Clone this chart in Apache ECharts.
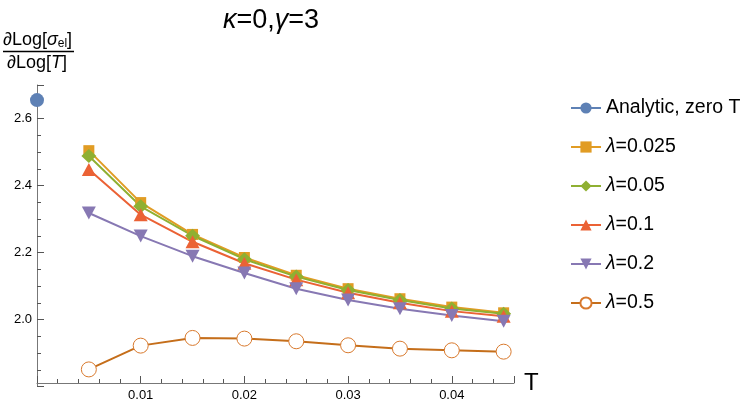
<!DOCTYPE html>
<html>
<head>
<meta charset="utf-8">
<script src="https://cdn.jsdelivr.net/npm/echarts@6/dist/echarts.min.js"></script>
<style>
  html, body { margin: 0; padding: 0; background: #fff; }
  #main { width: 750px; height: 407px; }
</style>
</head>
<body>
<div id="main"></div>
<script>
// data
var temps = [0.005, 0.01, 0.015, 0.02, 0.025, 0.03, 0.035, 0.04, 0.045];
var analytic = [[0, 2.655]];
var lam0025 = [2.504, 2.349, 2.254, 2.185, 2.132, 2.092, 2.062, 2.037, 2.020];
var lam005 = [2.488, 2.338, 2.250, 2.180, 2.128, 2.088, 2.058, 2.033, 2.017];
var lam01 = [2.448, 2.313, 2.232, 2.168, 2.119, 2.080, 2.050, 2.025, 2.010];
var lam02 = [2.318, 2.249, 2.189, 2.139, 2.092, 2.058, 2.032, 2.012, 1.995];
var lam05 = [1.851, 1.922, 1.945, 1.943, 1.935, 1.923, 1.913, 1.908, 1.904];

// axis ranges and tick steps
var xMin = 0, xMax = 0.046, xMajorStep = 0.01, xMinorSplit = 5;
var yMin = 1.8, yMax = 2.7, yMajorStep = 0.2, yMinorSplit = 4;

function pts(vals) {
  return vals.map(function (v, i) { return [temps[i], v]; });
}

var myChart = echarts.init(document.getElementById('main'));
var axisCol = '#777';
var tickCol = '#555';
var font = 'Liberation Sans, Arial, sans-serif';

var option = {
  animation: false,
  title: {
    text: '{i|κ}=0,{i|γ}=3',
    left: 218,
    top: 2,
    textStyle: {
      fontSize: 27, fontWeight: 'normal', color: '#000', fontFamily: font,
      rich: { i: { fontStyle: 'italic', fontSize: 27, fontFamily: font, color: '#000' } }
    }
  },
  legend: {
    orient: 'vertical',
    left: 565,
    top: 93,
    itemWidth: 30,
    itemHeight: 14,
    itemGap: 19,
    textStyle: {
      fontSize: 19.5, color: '#000', fontFamily: font,
      rich: { i: { fontStyle: 'italic', fontSize: 19.5, fontFamily: font, color: '#000' } }
    },
    formatter: function (name) {
      return name.replace('λ', '{i|λ}');
    },
    data: ['Analytic, zero T', 'λ=0.025', 'λ=0.05', 'λ=0.1', 'λ=0.2', 'λ=0.5']
  },
  grid: { left: 37, right: 236, top: 85, bottom: 20.5 },
  xAxis: {
    type: 'value', min: xMin, max: xMax, interval: xMajorStep, offset: -3.5,
    axisLine: { lineStyle: { color: axisCol, width: 1 } },
    axisTick: { show: true, inside: true, length: 7, lineStyle: { color: tickCol, width: 1 } },
    minorTick: { show: true, splitNumber: xMinorSplit, length: 4, lineStyle: { color: tickCol, width: 1 } },
    axisLabel: {
      color: '#000', fontSize: 13, fontFamily: font, margin: 6, showMinLabel: false, showMaxLabel: false,
      formatter: function (v) { return v.toFixed(2); }
    },
    splitLine: { show: false },
    minorSplitLine: { show: false },
    name: 'T',
    nameLocation: 'end',
    nameGap: 10,
    nameTextStyle: { fontSize: 24, color: '#000', fontFamily: font, verticalAlign: 'middle', padding: [4, 0, 0, 0] }
  },
  yAxis: {
    type: 'value', min: yMin, max: yMax, interval: yMajorStep,
    axisLine: { show: true, lineStyle: { color: axisCol, width: 1 } },
    axisTick: { show: true, inside: true, length: 7, lineStyle: { color: tickCol, width: 1 } },
    minorTick: { show: true, splitNumber: yMinorSplit, length: 4, lineStyle: { color: tickCol, width: 1 } },
    axisLabel: {
      color: '#000', fontSize: 13, fontFamily: font, margin: 5, showMinLabel: false, showMaxLabel: false,
      formatter: function (v) { return v.toFixed(1); }
    },
    splitLine: { show: false },
    minorSplitLine: { show: false }
  },
  graphic: [
    { type: 'text', left: 3, top: 31, style: { text: '{n|∂Log[}{i|σ}{s|el}{n|]}',
        rich: {
          n: { fontSize: 18, fontFamily: font, color: '#000' },
          i: { fontStyle: 'italic', fontSize: 18, fontFamily: font, color: '#000' },
          s: { fontSize: 12, fontFamily: font, color: '#000', padding: [8, 0, 0, 0] }
        } } },
    { type: 'line', shape: { x1: 3, y1: 51.5, x2: 74, y2: 51.5 }, style: { stroke: '#000', lineWidth: 1.5 } },
    { type: 'text', left: 7, top: 54, style: { text: '{n|∂Log[}{i|T}{n|]}',
        rich: {
          n: { fontSize: 18, fontFamily: font, color: '#000' },
          i: { fontStyle: 'italic', fontSize: 18, fontFamily: font, color: '#000' }
        } } }
  ],
  series: [
    {
      name: 'Analytic, zero T', type: 'line', data: analytic, clip: false,
      symbol: 'circle', symbolSize: 14, itemStyle: { color: '#5E81B5' }, lineStyle: { color: '#5E81B5', width: 2 }
    },
    {
      name: 'λ=0.025', type: 'line', data: pts(lam0025),
      symbol: 'rect', symbolSize: 11, itemStyle: { color: '#E19C24' }, lineStyle: { color: '#E19C24', width: 2 }
    },
    {
      name: 'λ=0.05', type: 'line', data: pts(lam005),
      symbol: 'diamond', symbolSize: [15, 14], itemStyle: { color: '#8FB032' }, lineStyle: { color: '#8FB032', width: 2 }
    },
    {
      name: 'λ=0.1', type: 'line', data: pts(lam01),
      symbol: 'triangle', symbolSize: [14, 13], itemStyle: { color: '#EB6235' }, lineStyle: { color: '#EB6235', width: 2 }
    },
    {
      name: 'λ=0.2', type: 'line', data: pts(lam02),
      symbol: 'triangle', symbolRotate: 180, symbolSize: [14, 13], itemStyle: { color: '#8778B3' }, lineStyle: { color: '#8778B3', width: 2 }
    },
    {
      name: 'λ=0.5', type: 'line', data: pts(lam05),
      symbol: 'circle', symbolSize: 15,
      itemStyle: { color: '#fff', borderColor: '#D8792D', borderWidth: 1 },
      lineStyle: { color: '#C56E1A', width: 2 }
    }
  ]
};
myChart.setOption(option);
</script>
</body>
</html>
